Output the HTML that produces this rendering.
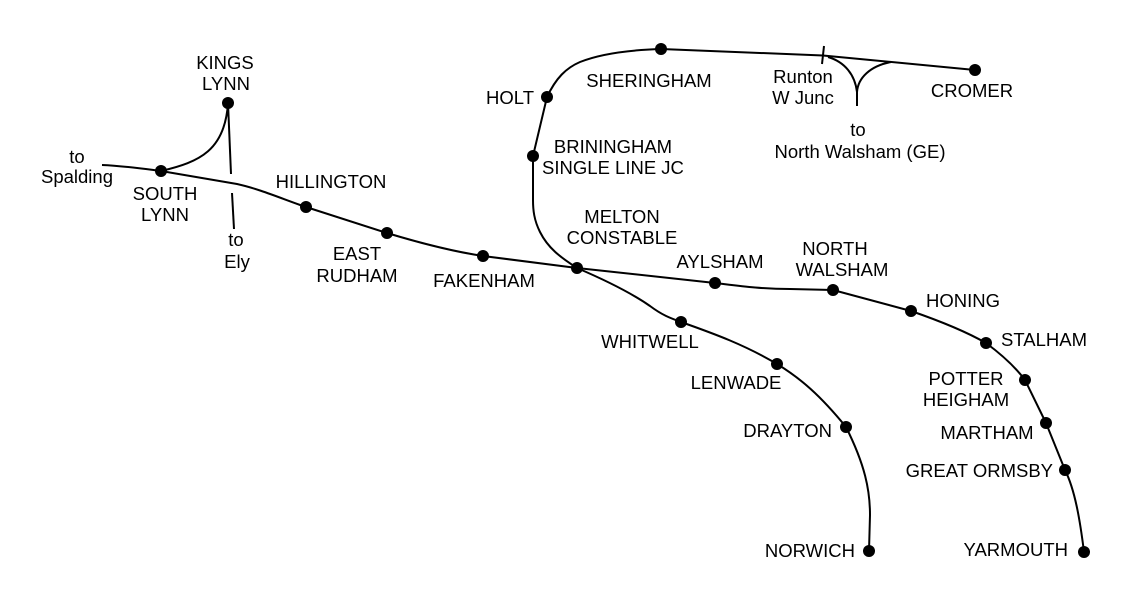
<!DOCTYPE html>
<html>
<head>
<meta charset="utf-8">
<style>
  html, body { margin: 0; padding: 0; background: #fff; }
  svg { display: block; }
  text { font-family: "Liberation Sans", Arial, sans-serif; font-size: 18.5px; fill: #000; }
</style>
</head>
<body>
<svg width="1125" height="600" viewBox="0 0 1125 600" xmlns="http://www.w3.org/2000/svg">
  <rect width="1125" height="600" fill="#fff"/>
  <g fill="none" stroke="#000" stroke-width="2" stroke-linejoin="round" stroke-linecap="butt">
    <!-- West main line -->
    <path d="M102,165 C125,166 145,169 161,171 L237,184 C260,189 285,200 306,207 L387,233 C420,243 450,251 483,256 L577,268"/>
    <!-- East main line -->
    <path d="M577,268 L715,283 C740,286 760,289 790,289 L833,290 L911,311 C940,321 965,331 986,343 C1005,357 1016,368 1025,380 L1046,423 L1065,470 C1075,490 1080,520 1084,552"/>
    <!-- Norwich branch -->
    <path d="M577,268 C605,280 630,292 650,306 C662,315 670,318 681,322 C715,334 745,345 777,364 C800,378 820,395 846,427 C865,465 870,490 870,515 L869,551"/>
    <!-- North loop -->
    <path d="M577,268 C560,257 548,248 540,232 C534,220 533,210 533,200 L533,156 L547,97 C556,78 566,68 580,62 C600,54 630,50 661,49 L823,55.5 L975,70"/>
    <!-- Kings Lynn curve -->
    <path d="M161,171 C200,162 225,150 228,103"/>
    <!-- Ely line -->
    <path d="M228,103 L231,174"/>
    <path d="M232,193 L234,229"/>
    <!-- Runton junction -->
    <path d="M824,46 L822,64"/>
    <path d="M828,57 C845,62 855,75 857,92"/>
    <path d="M891,62 C870,66 858,78 857,92 L857,106"/>
  </g>
  <g fill="#000">
    <circle cx="228" cy="103" r="6"/>
    <circle cx="161" cy="171" r="6"/>
    <circle cx="306" cy="207" r="6"/>
    <circle cx="387" cy="233" r="6"/>
    <circle cx="483" cy="256" r="6"/>
    <circle cx="577" cy="268" r="6"/>
    <circle cx="715" cy="283" r="6"/>
    <circle cx="833" cy="290" r="6"/>
    <circle cx="911" cy="311" r="6"/>
    <circle cx="986" cy="343" r="6"/>
    <circle cx="1025" cy="380" r="6"/>
    <circle cx="1046" cy="423" r="6"/>
    <circle cx="1065" cy="470" r="6"/>
    <circle cx="1084" cy="552" r="6"/>
    <circle cx="681" cy="322" r="6"/>
    <circle cx="777" cy="364" r="6"/>
    <circle cx="846" cy="427" r="6"/>
    <circle cx="869" cy="551" r="6"/>
    <circle cx="547" cy="97" r="6"/>
    <circle cx="533" cy="156" r="6"/>
    <circle cx="661" cy="49" r="6"/>
    <circle cx="975" cy="70" r="6"/>
  </g>
  <g text-anchor="middle">
    <text x="225" y="69">KINGS</text>
    <text x="226" y="90">LYNN</text>
    <text x="77" y="163">to</text>
    <text x="77" y="183">Spalding</text>
    <text x="165" y="200">SOUTH</text>
    <text x="165" y="221">LYNN</text>
    <text x="236" y="246">to</text>
    <text x="237" y="268">Ely</text>
    <text x="331" y="188">HILLINGTON</text>
    <text x="357" y="260">EAST</text>
    <text x="357" y="282">RUDHAM</text>
    <text x="484" y="287">FAKENHAM</text>
    <text x="622" y="223">MELTON</text>
    <text x="622" y="244">CONSTABLE</text>
    <text x="720" y="268">AYLSHAM</text>
    <text x="835" y="255">NORTH</text>
    <text x="842" y="276">WALSHAM</text>
    <text x="963" y="307">HONING</text>
    <text x="1044" y="346">STALHAM</text>
    <text x="966" y="385">POTTER</text>
    <text x="966" y="406">HEIGHAM</text>
    <text x="987" y="439">MARTHAM</text>
    <text x="736" y="389">LENWADE</text>
    <text x="650" y="348">WHITWELL</text>
    <text x="613" y="153">BRININGHAM</text>
    <text x="613" y="174">SINGLE LINE JC</text>
    <text x="649" y="87">SHERINGHAM</text>
    <text x="803" y="83">Runton</text>
    <text x="803" y="104">W Junc</text>
    <text x="972" y="97">CROMER</text>
    <text x="858" y="136">to</text>
    <text x="860" y="158">North Walsham (GE)</text>
  </g>
  <g text-anchor="end">
    <text x="1053" y="477">GREAT ORMSBY</text>
    <text x="1068" y="556">YARMOUTH</text>
    <text x="855" y="557">NORWICH</text>
    <text x="832" y="437">DRAYTON</text>
    <text x="534" y="104">HOLT</text>
  </g>
</svg>
</body>
</html>
